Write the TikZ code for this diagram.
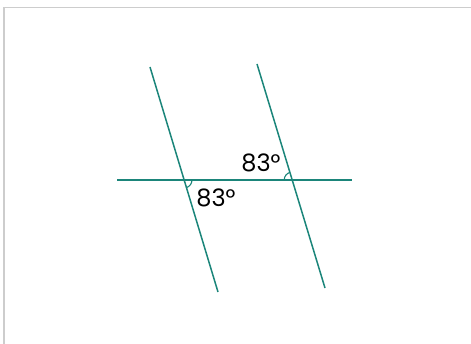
\documentclass[tikz,border=0pt]{standalone}
\usepackage{fontspec}
\setmainfont{Poppins}
\definecolor{teal1}{HTML}{1B857A}
\definecolor{frame}{HTML}{CDCDCD}
\tikzset{geo/.style={draw=teal1, line width=1.5pt},
  frm/.style={draw=frame, line width=1.2pt},
  lbl/.style={font=\fontsize{24}{24}\selectfont, inner sep=0pt, text=black}}
\begin{document}
\begin{tikzpicture}[x=1pt,y=-1pt]
\useasboundingbox (0,0) rectangle (471,344);
\draw[frm] (4,344) -- (4,7.5) -- (471,7.5);
\coordinate (h1) at (117,180);
\coordinate (h2) at (352,180);
\coordinate (a1) at (150,67);
\coordinate (a2) at (218,292);
\coordinate (b1) at (257,64);
\coordinate (b2) at (325,288);
\draw[geo] (h1) -- (h2);
\draw[geo] (a1) -- (a2);
\draw[geo] (b1) -- (b2);
\coordinate (pa) at (184,180);
\coordinate (pb) at (292.2,180);
\draw[teal1, line width=1.1pt] ([shift={(8,0)}]pa) arc[start angle=0, end angle=73.2, radius=8];
\draw[teal1, line width=1.1pt] ([shift={(-8,0)}]pb) arc[start angle=180, end angle=253.2, radius=8];
\node[lbl] (l1) at (216,197.5) {83°};
\node[lbl] (l2) at (261,162.5) {83°};
\end{tikzpicture}
\end{document}
